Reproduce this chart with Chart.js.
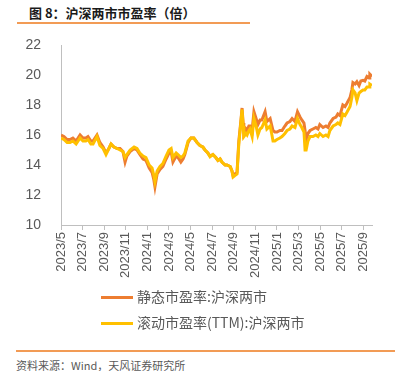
<!DOCTYPE html>
<html>
<head>
<meta charset="utf-8">
<script src="https://cdn.jsdelivr.net/npm/chart.js@4/dist/chart.umd.min.js"></script>
<style>
  body { margin: 0; width: 404px; height: 371px; background: #fff; position: relative; overflow: hidden;
         font-family: "Noto Sans CJK SC", "Liberation Sans", sans-serif; }
  #title { position: absolute; left: 29px; top: 3px; font-size: 13px; font-weight: bold; color: #1a1a1a; white-space: nowrap; }
  .rule { position: absolute; height: 2px; background: #f29b55; }
  #chart-wrap { position: absolute; left: 0; top: 0; width: 404px; height: 290px; }
  .legend-item { position: absolute; left: 101px; font-size: 14px; color: #595959; white-space: nowrap; }
  .legend-item .swatch { display: inline-block; width: 32px; height: 3px; vertical-align: middle; margin-right: 4px; position: relative; top: -1px; }
  #source { position: absolute; left: 16px; top: 357px; font-size: 11px; color: #595959; white-space: nowrap; }
</style>
</head>
<body>
<div id="title">图 8：沪深两市市盈率（倍）</div>
<div class="rule" style="left:17px; top:22px; width:233px;"></div>
<div id="chart-wrap"><canvas id="pe-chart" width="404" height="290"></canvas></div>
<div class="legend-item" style="top:286px;"><span class="swatch" style="background:#ed7d31"></span>静态市盈率:沪深两市</div>
<div class="legend-item" style="top:312px;"><span class="swatch" style="background:#ffc000"></span>滚动市盈率(TTM):沪深两市</div>
<div class="rule" style="left:16px; top:350px; width:379px;"></div>
<div id="source">资料来源：Wind，天风证券研究所</div>

<script>
// ============================================================================
// Data
// ============================================================================

const dates = [
  '2023-05-01', '2023-05-09', '2023-05-18', '2023-05-26', '2023-06-04', '2023-06-13', '2023-06-24',
  '2023-07-02', '2023-07-10', '2023-07-16', '2023-07-24', '2023-07-30', '2023-08-11', '2023-08-19',
  '2023-08-28', '2023-09-06', '2023-09-14', '2023-09-20', '2023-09-28', '2023-10-07', '2023-10-15',
  '2023-10-23', '2023-10-29', '2023-11-04', '2023-11-13', '2023-11-24', '2023-12-02', '2023-12-10',
  '2023-12-19', '2023-12-27', '2024-01-06', '2024-01-14', '2024-01-19', '2024-01-22', '2024-01-28',
  '2024-02-06', '2024-02-14', '2024-02-23', '2024-03-01', '2024-03-07', '2024-03-12', '2024-03-21',
  '2024-03-26', '2024-04-04', '2024-04-10', '2024-04-15', '2024-04-24', '2024-05-02', '2024-05-10',
  '2024-05-19', '2024-05-27', '2024-06-05', '2024-06-11', '2024-06-19', '2024-06-25', '2024-07-03',
  '2024-07-11', '2024-07-17', '2024-07-23', '2024-07-28', '2024-08-07', '2024-08-12', '2024-08-21',
  '2024-08-26', '2024-08-29', '2024-09-04', '2024-09-10', '2024-09-15', '2024-09-21', '2024-09-24',
  '2024-09-27', '2024-09-29', '2024-10-05', '2024-10-08', '2024-10-13', '2024-10-16', '2024-10-22',
  '2024-10-27', '2024-11-03', '2024-11-08', '2024-11-14', '2024-11-19', '2024-11-28', '2024-12-03',
  '2024-12-12', '2024-12-17', '2024-12-20', '2024-12-25', '2025-01-01', '2025-01-09', '2025-01-15',
  '2025-01-23', '2025-01-29', '2025-02-07', '2025-02-13', '2025-02-21', '2025-02-28', '2025-03-05',
  '2025-03-10', '2025-03-16', '2025-03-19', '2025-03-22', '2025-03-27', '2025-04-03', '2025-04-11',
  '2025-04-19', '2025-04-25', '2025-04-30', '2025-05-09', '2025-05-17', '2025-05-23', '2025-05-28',
  '2025-06-07', '2025-06-15', '2025-06-20', '2025-06-26', '2025-07-04', '2025-07-10', '2025-07-15',
  '2025-07-24', '2025-07-29', '2025-08-02', '2025-08-08', '2025-08-13', '2025-08-19', '2025-08-24',
  '2025-08-30', '2025-09-05', '2025-09-11', '2025-09-17', '2025-09-19', '2025-09-25'
];

// 静态市盈率:沪深两市
const staticPE = [
  16.0, 15.9, 15.7, 15.7, 15.8, 15.6, 16.0,
  15.8, 15.8, 15.9, 15.6, 15.6, 16.0, 15.5,
  15.2, 14.8, 15.1, 15.4, 15.2, 15.1, 15.1,
  14.9, 14.2, 14.6, 14.9, 15.1, 15.0, 14.7,
  14.4, 14.3, 13.8, 13.5, 13.0, 12.55, 13.4,
  13.7, 13.9, 14.4, 14.8, 14.9, 14.2, 14.6,
  14.5, 14.2, 14.4, 14.7, 15.5, 15.8, 15.8,
  15.5, 15.3, 15.2, 15.0, 14.8, 14.6, 14.7,
  14.5, 14.3, 14.4, 14.2, 14.0, 14.0, 13.9,
  13.6, 13.3, 13.4, 13.5, 15.6, 17.0, 17.8,
  16.8, 16.1, 16.4, 16.3, 16.6, 16.6, 16.3,
  17.55, 17.1, 16.7, 17.0, 17.0, 17.55, 16.9,
  17.1, 16.6, 16.3, 16.2, 16.2, 16.3, 16.3,
  16.6, 16.8, 16.9, 17.1, 16.9, 17.55, 17.2,
  17.0, 16.8, 16.3, 15.6, 16.1, 16.3, 16.4,
  16.5, 16.4, 16.7, 16.5, 16.6, 16.5, 16.8,
  17.1, 17.2, 17.4, 17.3, 18.0, 17.9, 18.1,
  18.5, 19.0, 19.5, 19.4, 19.55, 19.3, 19.6,
  19.65, 19.6, 19.9, 19.8, 20.05, 19.9
];

// 滚动市盈率(TTM):沪深两市
const ttmPE = [
  15.8, 15.7, 15.5, 15.5, 15.6, 15.4, 15.8,
  15.6, 15.6, 15.7, 15.4, 15.4, 15.9, 15.3,
  15.1, 14.7, 15.1, 15.4, 15.2, 15.1, 15.0,
  14.9, 14.5, 14.7, 15.0, 15.2, 15.1, 14.8,
  14.6, 14.5, 14.0, 13.8, 13.3, 12.9, 13.6,
  13.9, 14.1, 14.6, 15.0, 15.1, 14.5, 14.8,
  14.7, 14.5, 14.6, 14.8, 15.6, 15.8, 15.8,
  15.5, 15.3, 15.2, 15.0, 14.8, 14.55, 14.7,
  14.5, 14.3, 14.4, 14.2, 14.0, 14.0, 13.9,
  13.6, 13.2, 13.3, 13.4, 15.4, 16.9, 17.7,
  16.6, 15.9, 16.1, 16.0, 16.3, 16.4, 15.9,
  17.1, 16.6, 16.0, 16.4, 16.5, 17.0, 16.4,
  16.6, 16.0, 15.6, 15.6, 15.7, 15.8, 15.9,
  16.1, 16.3, 16.4, 16.6, 16.5, 17.1, 16.7,
  16.5, 16.2, 15.0, 15.0, 15.6, 15.9, 15.9,
  16.0, 15.9, 16.1, 15.9, 16.0, 15.9, 16.3,
  16.6, 16.7, 16.8, 16.7, 17.4, 17.3, 17.5,
  17.9, 18.5, 19.0, 18.8, 18.3, 18.8, 18.9,
  19.0, 19.0, 19.2, 19.2, 19.4, 19.3
];

// x-axis tick labels, one every two months starting at 2023/5
const tickLabels = [
  '2023/5', '2023/7', '2023/9', '2023/11', '2024/1', '2024/3', '2024/5', '2024/7',
  '2024/9', '2024/11', '2025/1', '2025/3', '2025/5', '2025/7', '2025/9'
];

const yTicks = [10, 12, 14, 16, 18, 20, 22];

// ============================================================================
// Helpers
// ============================================================================

// months elapsed since 2023-05-01
function monthPos(dateStr) {
  const [y, m, d] = dateStr.split('-').map(Number);
  return (y - 2023) * 12 + (m - 5) + (d - 1) / 30;
}

function toPoints(values) {
  return values.map((v, i) => ({ x: monthPos(dates[i]), y: v }));
}

// ============================================================================
// Chart
// ============================================================================

const AXIS_GRAY = '#bfbfbf';
const TEXT_GRAY = '#595959';

const ctx = document.getElementById('pe-chart').getContext('2d');
new Chart(ctx, {
  type: 'line',
  data: {
    datasets: [
      {
        label: '静态市盈率:沪深两市',
        data: toPoints(staticPE),
        borderColor: '#ed7d31',
        borderWidth: 3,
        pointRadius: 0,
        tension: 0,
        order: 1
      },
      {
        label: '滚动市盈率(TTM):沪深两市',
        data: toPoints(ttmPE),
        borderColor: '#ffc000',
        borderWidth: 3,
        pointRadius: 0,
        tension: 0,
        order: 0
      }
    ]
  },
  options: {
    responsive: false,
    animation: false,
    layout: { padding: { top: 45, right: 32, left: 0, bottom: 0 } },
    plugins: {
      legend: { display: false },
      tooltip: { enabled: false }
    },
    scales: {
      x: {
        type: 'linear',
        min: 0,
        max: 28.8,
        border: { color: AXIS_GRAY, width: 1 },
        grid: { display: true, drawOnChartArea: false, drawTicks: true, tickLength: 5, color: AXIS_GRAY },
        afterBuildTicks: scale => {
          scale.ticks = tickLabels.map((_, i) => ({ value: i * 2 }));
        },
        ticks: {
          autoSkip: false,
          minRotation: 90,
          maxRotation: 90,
          padding: 2,
          color: TEXT_GRAY,
          font: { family: 'Liberation Sans', size: 13 },
          callback: value => tickLabels[Math.round(value / 2)]
        },
        afterFit: scale => { scale.height = 65; }
      },
      y: {
        min: 10,
        max: 22,
        border: { color: AXIS_GRAY, width: 1 },
        grid: { display: false },
        afterBuildTicks: scale => {
          scale.ticks = yTicks.map(v => ({ value: v }));
        },
        ticks: {
          padding: 12,
          color: TEXT_GRAY,
          font: { family: 'Liberation Sans', size: 14 }
        },
        afterFit: scale => { scale.width = 61; }
      }
    }
  }
});
</script>
</body>
</html>
